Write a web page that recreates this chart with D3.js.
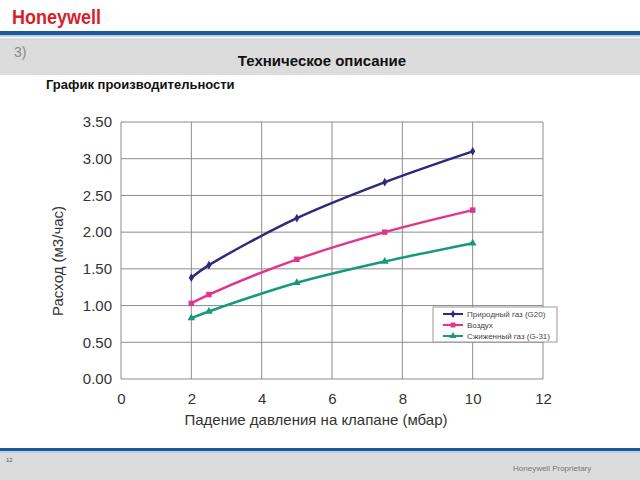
<!DOCTYPE html>
<html lang="ru">
<head>
<meta charset="UTF-8">
<title>График производительности</title>
<script src="https://d3js.org/d3.v7.min.js"></script>
<style>
  body { margin: 0; background: #fff; }
  svg { display: block; font-family: "Liberation Sans", Arial, sans-serif; }
</style>
</head>
<body>
<svg width="640" height="480"></svg>
<script>
// data
const pressure = [2, 2.5, 5, 7.5, 10];
const naturalGas = [1.38, 1.55, 2.19, 2.68, 3.10];
const air = [1.03, 1.15, 1.63, 2.00, 2.30];
const lpg = [0.83, 0.92, 1.31, 1.60, 1.85];
const seriesNames = ["Природный газ (G20)", "Воздух", "Сжиженный газ (G-31)"];
const xTicks = [0, 2, 4, 6, 8, 10, 12];
const yTicks = [0, 0.5, 1, 1.5, 2, 2.5, 3, 3.5];

const svg = d3.select("svg");

// header
svg.append("text").attr("x", 12).attr("y", 24)
    .attr("fill", "#d7212b").attr("font-size", 20).attr("font-weight", "bold")
    .attr("textLength", 89).attr("lengthAdjust", "spacingAndGlyphs")
    .text("Honeywell");
svg.append("rect").attr("x", 0).attr("y", 31).attr("width", 640).attr("height", 4).attr("fill", "#1d5a9c");
svg.append("rect").attr("x", 0).attr("y", 35).attr("width", 640).attr("height", 2).attr("fill", "#b9cfe6");
svg.append("rect").attr("x", 0).attr("y", 38).attr("width", 640).attr("height", 37).attr("fill", "#dcdcdc");
svg.append("text").attr("x", 14).attr("y", 57).attr("fill", "#8a8a8a").attr("font-size", 14).text("3)");
svg.append("text").attr("x", 322).attr("y", 66).attr("text-anchor", "middle")
    .attr("font-size", 15).attr("font-weight", "bold").attr("fill", "#111").text("Техническое описание");
svg.append("text").attr("x", 46).attr("y", 89)
    .attr("font-size", 13).attr("font-weight", "bold").attr("fill", "#111").text("График производительности");

// footer
svg.append("rect").attr("x", 0).attr("y", 448).attr("width", 640).attr("height", 3).attr("fill", "#1d5a9c");
svg.append("rect").attr("x", 0).attr("y", 451).attr("width", 640).attr("height", 2).attr("fill", "#b9cfe6");
svg.append("rect").attr("x", 0).attr("y", 453).attr("width", 640).attr("height", 27).attr("fill", "#dcdcdc");
svg.append("text").attr("x", 6).attr("y", 462).attr("font-size", 6).attr("fill", "#555").text("12");
svg.append("text").attr("x", 513).attr("y", 471).attr("font-size", 8).attr("fill", "#777").text("Honeywell Proprietary");

// chart
const x = d3.scaleLinear().domain([0, 12]).range([121, 543]);
const y = d3.scaleLinear().domain([0, 3.5]).range([379, 122]);

const grid = svg.append("g");
grid.selectAll(".vg").data(xTicks).join("line")
    .attr("x1", d => x(d)).attr("x2", d => x(d))
    .attr("y1", y(3.5)).attr("y2", y(0))
    .attr("stroke", "#8c8c8c").attr("stroke-width", 1);
grid.selectAll(".hg").data(yTicks).join("line")
    .attr("x1", x(0)).attr("x2", x(12))
    .attr("y1", d => y(d)).attr("y2", d => y(d))
    .attr("stroke", "#8c8c8c").attr("stroke-width", 1);

const xAxis = svg.append("g").attr("transform", `translate(0,${y(0)})`)
    .call(d3.axisBottom(x).tickValues(xTicks).tickSize(0).tickPadding(14).tickFormat(d3.format("d")));
const yAxis = svg.append("g").attr("transform", `translate(${x(0)},0)`)
    .call(d3.axisLeft(y).tickValues(yTicks).tickSize(0).tickPadding(9).tickFormat(d3.format(".2f")));
[xAxis, yAxis].forEach(a => {
    a.select(".domain").remove();
    a.selectAll("text").attr("font-size", 15).attr("fill", "#333")
        .attr("font-family", "Liberation Sans, Arial, sans-serif");
});

svg.append("text").attr("x", 316).attr("y", 425).attr("text-anchor", "middle")
    .attr("font-size", 15).attr("fill", "#333").text("Падение давления на клапане (мбар)");
svg.append("text").attr("transform", "translate(63,261) rotate(-90)").attr("text-anchor", "middle")
    .attr("font-size", 15).attr("fill", "#333").text("Расход (м3/час)");

const series = [
    { name: seriesNames[0], values: naturalGas, color: "#2b2a7c", symbol: d3.symbolDiamond, size: 22 },
    { name: seriesNames[1], values: air, color: "#e0358f", symbol: d3.symbolSquare, size: 30 },
    { name: seriesNames[2], values: lpg, color: "#17997a", symbol: d3.symbolTriangle, size: 26 }
];

const line = d3.line().x(d => x(d[0])).y(d => y(d[1])).curve(d3.curveCatmullRom.alpha(0.5));

series.forEach(s => {
    const pts = pressure.map((p, i) => [p, s.values[i]]);
    svg.append("path").datum(pts).attr("d", line)
        .attr("fill", "none").attr("stroke", s.color).attr("stroke-width", 2.5);
    svg.selectAll(null).data(pts).join("path")
        .attr("transform", d => `translate(${x(d[0])},${y(d[1])})`)
        .attr("d", d3.symbol().type(s.symbol).size(s.size))
        .attr("fill", s.color);
});

// legend
const lg = svg.append("g").attr("transform", "translate(433,307)");
lg.append("rect").attr("width", 124).attr("height", 35).attr("fill", "#fff").attr("stroke", "#999");
series.forEach((s, i) => {
    const row = lg.append("g").attr("transform", `translate(0,${7 + i * 11})`);
    row.append("line").attr("x1", 10).attr("x2", 30).attr("stroke", s.color).attr("stroke-width", 2);
    row.append("path").attr("transform", "translate(20,0)")
        .attr("d", d3.symbol().type(s.symbol).size(s.size * 0.8)).attr("fill", s.color);
    row.append("text").attr("x", 34).attr("y", 3).attr("font-size", 8).attr("fill", "#444").text(s.name);
});
</script>
</body>
</html>
